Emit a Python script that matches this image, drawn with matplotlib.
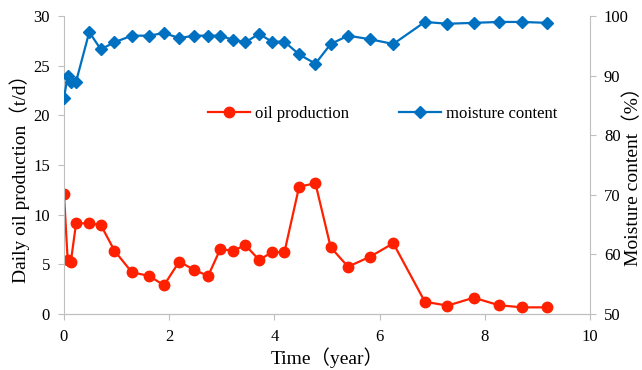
import matplotlib
matplotlib.use("Agg")
import matplotlib.pyplot as plt

years = [0, 0.07, 0.13, 0.23, 0.48, 0.70, 0.96, 1.29, 1.62, 1.90, 2.19, 2.48, 2.74, 2.97,
         3.21, 3.45, 3.71, 3.95, 4.19, 4.47, 4.78, 5.07, 5.40, 5.82, 6.26, 6.86, 7.29,
         7.79, 8.27, 8.71, 9.19]
oil = [12.05, 5.4, 5.27, 9.13, 9.13, 8.96, 6.37, 4.2, 3.83, 2.89, 5.27, 4.43, 3.83, 6.52,
       6.37, 6.92, 5.44, 6.21, 6.21, 12.82, 13.16, 6.72, 4.76, 5.77, 7.12, 1.24, 0.84,
       1.64, 0.88, 0.67, 0.67]
moisture = [86.2, 90.0, 88.85, 89.0, 97.3, 94.4, 95.6, 96.7, 96.7, 97.15, 96.3, 96.7, 96.7,
            96.7, 96.0, 95.6, 97.0, 95.7, 95.7, 93.55, 92.0, 95.3, 96.7, 96.1, 95.3, 99.0,
            98.7, 98.85, 99.0, 99.0, 98.85]
x_ticks = [0, 2, 4, 6, 8, 10]
left_ticks = [0, 5, 10, 15, 20, 25, 30]
right_ticks = [50, 60, 70, 80, 90, 100]

FAM = ['Liberation Serif', 'Noto Sans CJK SC']
plt.rcParams['font.family'] = FAM
plt.rcParams['font.size'] = 12

RED = '#FF2000'
BLUE = '#0070C0'
GRAY = '#BFBFBF'

fig = plt.figure(figsize=(6.42, 3.70), dpi=100)
ax = fig.add_axes([64/642, 1-314/370, (590-64)/642, (314-16)/370])
ax2 = ax.twinx()

l1, = ax.plot(years, oil, color=RED, marker='o', markersize=7.5, linewidth=1.6,
              label='oil production')
l2, = ax2.plot(years, moisture, color=BLUE, marker='D', markersize=6, linewidth=1.6,
               label='moisture content')

ax.set_xlim(0, 10)
ax.set_ylim(0, 30)
ax2.set_ylim(50, 100)
ax.set_xticks(x_ticks)
ax.set_yticks(left_ticks)
ax2.set_yticks(right_ticks)

for a in (ax, ax2):
    a.spines['top'].set_visible(False)
    for s in ('left', 'right', 'bottom'):
        a.spines[s].set_color(GRAY)
    a.tick_params(colors=GRAY, labelcolor='black', length=4, direction='out', labelsize=12)
ax.tick_params(axis='x', pad=7)
ax.tick_params(axis='y', pad=6)
ax2.tick_params(axis='y', pad=6)
ax2.spines['left'].set_visible(False)
ax.spines['right'].set_visible(False)

ax.set_xlabel('Time（year）', fontsize=14, va='center')
ax.set_ylabel('Daily oil production（t/d）', fontsize=14, va='center')
ax2.set_ylabel('Moisture content（%）', fontsize=14, rotation=90, va='center')

ax.xaxis.set_label_coords(0.5, -0.147)
ax.yaxis.set_label_coords(-0.0837, 0.47)
ax2.yaxis.set_label_coords(1.081, 0.476)

ax2.legend(handles=[l1, l2], loc='center', bbox_to_anchor=(0.606, 0.672), ncol=2,
           frameon=False, fontsize=12, handlelength=2.5, columnspacing=3.0,
           handletextpad=0.3)

fig.savefig('out.png', dpi=100)
